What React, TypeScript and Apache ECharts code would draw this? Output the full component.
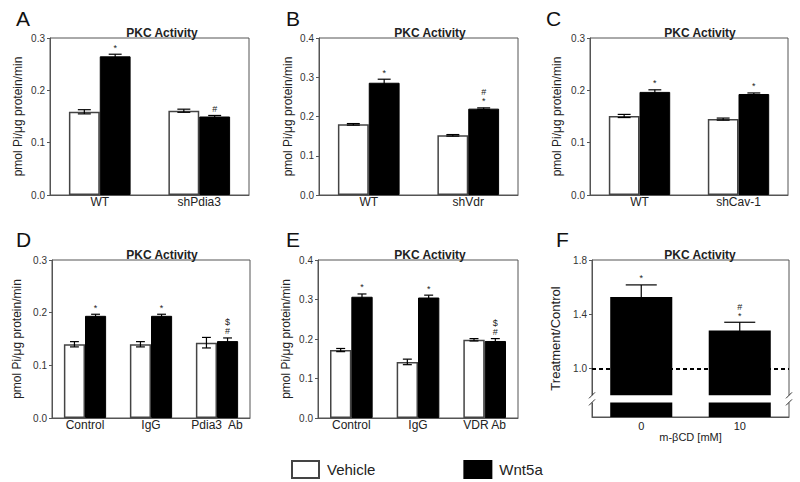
import React, { useEffect, useRef } from 'react';
import * as echarts from 'echarts';

const FONT = '"Liberation Sans", Arial, Helvetica, sans-serif';

// ---- Data ----
// Panel A
const catsA = ['WT', 'shPdia3'];
const vehA = [0.159, 0.161];
const vehErrA = [0.004, 0.003];
const wntA = [0.265, 0.150];
const wntErrA = [0.004, 0.002];
const markA = ['*', '#'];

// Panel B
const catsB = ['WT', 'shVdr'];
const vehB = [0.180, 0.152];
const vehErrB = [0.002, 0.002];
const wntB = [0.286, 0.220];
const wntErrB = [0.009, 0.002];
const markB = ['*', '#\n*'];

// Panel C
const catsC = ['WT', 'shCav-1'];
const vehC = [0.151, 0.145];
const vehErrC = [0.003, 0.002];
const wntC = [0.197, 0.193];
const wntErrC = [0.004, 0.002];
const markC = ['*', '*'];

// Panel D
const catsD = ['Control', 'IgG', 'Pdia3  Ab'];
const vehD = [0.140, 0.140, 0.143];
const vehErrD = [0.005, 0.005, 0.010];
const wntD = [0.194, 0.194, 0.146];
const wntErrD = [0.003, 0.003, 0.006];
const markD = ['*', '*', '$\n#'];

// Panel E
const catsE = ['Control', 'IgG', 'VDR Ab'];
const vehE = [0.172, 0.142, 0.198];
const vehErrE = [0.004, 0.007, 0.003];
const wntE = [0.307, 0.305, 0.195];
const wntErrE = [0.007, 0.006, 0.006];
const markE = ['*', '*', '$\n#'];

// Panel F
const catsF = ['0', '10'];
const ratioF = [1.526, 1.28];
const ratioErrF = [0.09, 0.06];
const markF = ['*', '#\n*'];
const breakF = [0.748, 0.8];
const refLineF = 1.0;
const yTicksF = [1.0, 1.4, 1.8];

// Y-axis maxima / intervals for panels A-E
const yMaxA = 0.3, yMaxB = 0.4, yMaxC = 0.3, yMaxD = 0.3, yMaxE = 0.4;
const yInterval = 0.1;

const panels = [
  { id: 'A', cats: catsA, veh: vehA, vehErr: vehErrA, wnt: wntA, wntErr: wntErrA, marks: markA, max: yMaxA,
    grid: { left: 50, top: 38, width: 199, height: 157 }, frac: 0.31, nameGap: 26, titleX: 157, titleTop: 22, lx: 11, ly: 3 },
  { id: 'B', cats: catsB, veh: vehB, vehErr: vehErrB, wnt: wntB, wntErr: wntErrB, marks: markB, max: yMaxB,
    grid: { left: 319, top: 38, width: 199, height: 157 }, frac: 0.31, nameGap: 25, titleX: 425, titleTop: 22, lx: 281, ly: 3 },
  { id: 'C', cats: catsC, veh: vehC, vehErr: vehErrC, wnt: wntC, wntErr: wntErrC, marks: markC, max: yMaxC,
    grid: { left: 590, top: 38, width: 198, height: 157 }, frac: 0.31, nameGap: 27, titleX: 695, titleTop: 22, lx: 541, ly: 3 },
  { id: 'D', cats: catsD, veh: vehD, vehErr: vehErrD, wnt: wntD, wntErr: wntErrD, marks: markD, max: yMaxD,
    grid: { left: 52, top: 260, width: 198, height: 158 }, frac: 0.32, nameGap: 29, titleX: 157, titleTop: 244, lx: 11, ly: 224 },
  { id: 'E', cats: catsE, veh: vehE, vehErr: vehErrE, wnt: wntE, wntErr: wntErrE, marks: markE, max: yMaxE,
    grid: { left: 318, top: 260, width: 200, height: 158 }, frac: 0.32, nameGap: 26, titleX: 425, titleTop: 244, lx: 281, ly: 224 },
];

const gridF = { left: 592, top: 260, width: 197, height: 157 };

function makeErrorRender(frac: number, capFrac: number, markFor: (i: number) => string) {
  return (params: any, api: any) => {
    const cat = api.value(0);
    const mean = api.value(1);
    const err = api.value(2);
    const side = api.value(3);
    const band = api.size([1, 0])[0];
    const w = band * frac;
    const c = api.coord([cat, mean]);
    const x = c[0] + (side * w) / 2;
    const yTop = api.coord([cat, mean + err])[1];
    const yBot = api.coord([cat, mean - err])[1];
    const half = (w * capFrac) / 2;
    const ls = { stroke: '#000', lineWidth: 1.2 };
    const children: any[] = [
      { type: 'line', shape: { x1: x, y1: yBot, x2: x, y2: yTop }, style: ls },
      { type: 'line', shape: { x1: x - half, y1: yTop, x2: x + half, y2: yTop }, style: ls },
      { type: 'line', shape: { x1: x - half, y1: yBot, x2: x + half, y2: yBot }, style: ls },
    ];
    const m = markFor(params.dataIndex);
    if (m) {
      children.push({
        type: 'text',
        style: {
          text: m, x, y: yTop - 2, align: 'center', verticalAlign: 'bottom',
          fontSize: 9, lineHeight: 9, fontFamily: FONT, fill: '#222',
        },
      });
    }
    return { type: 'group', children };
  };
}

function buildOption() {
  const grids: any[] = [];
  const xAxes: any[] = [];
  const yAxes: any[] = [];
  const series: any[] = [];
  const titles: any[] = [];

  const axisLineStyle = { show: true, lineStyle: { color: '#555', width: 1 } };

  panels.forEach((p, i) => {
    grids.push({ ...p.grid, show: true, borderColor: '#555', borderWidth: 1, containLabel: false });
    xAxes.push({
      type: 'category', gridIndex: i, data: p.cats,
      axisTick: { show: false }, axisLine: axisLineStyle,
      axisLabel: { interval: 0, fontSize: 12, color: '#222', fontFamily: FONT, margin: 1 },
    });
    yAxes.push({
      type: 'value', gridIndex: i, min: 0, max: p.max, interval: yInterval,
      name: 'pmol Pi/μg protein/min', nameLocation: 'middle', nameGap: p.nameGap,
      nameTextStyle: { fontSize: 12, color: '#222', fontFamily: FONT },
      splitLine: { show: false }, axisLine: axisLineStyle,
      axisTick: { show: true, length: 3, lineStyle: { color: '#555' } },
      axisLabel: { fontSize: 10, color: '#333', fontFamily: FONT, margin: 5, formatter: (v: number) => v.toFixed(1) },
    });
    const bw = `${p.frac * 100}%`;
    series.push({
      type: 'bar', name: 'Vehicle', xAxisIndex: i, yAxisIndex: i, data: p.veh, barWidth: bw, barGap: '0%',
      itemStyle: { color: '#ffffff', borderColor: '#444', borderWidth: 1.5 },
    });
    series.push({
      type: 'bar', name: 'Wnt5a', xAxisIndex: i, yAxisIndex: i, data: p.wnt, barWidth: bw, barGap: '0%',
      itemStyle: { color: '#000000', borderColor: '#000', borderWidth: 1 },
    });
    const errData = [
      ...p.veh.map((m, j) => [j, m, p.vehErr[j], -1]),
      ...p.wnt.map((m, j) => [j, m, p.wntErr[j], 1]),
    ];
    const n = p.veh.length;
    const marks = p.marks;
    series.push({
      type: 'custom', name: 'err' + p.id, xAxisIndex: i, yAxisIndex: i, z: 5, clip: false, silent: true,
      encode: { x: 0, y: 1 }, data: errData,
      renderItem: makeErrorRender(p.frac, 0.42, (k: number) => (k >= n ? marks[k - n] : '')),
    });
    titles.push({ text: 'PKC Activity', left: p.titleX, top: p.titleTop, textAlign: 'center',
      textStyle: { fontSize: 12, fontWeight: 'bold', color: '#222', fontFamily: FONT } });
    titles.push({ text: p.id, left: p.lx, top: p.ly,
      textStyle: { fontSize: 21, fontWeight: 'normal', color: '#111', fontFamily: FONT } });
  });

  // Panel F
  const fi = panels.length;
  grids.push({ ...gridF, show: true, borderColor: '#555', borderWidth: 1, containLabel: false });
  xAxes.push({
    type: 'category', gridIndex: fi, data: catsF,
    name: 'm-βCD [mM]', nameLocation: 'middle', nameGap: 11,
    nameTextStyle: { fontSize: 11, color: '#222', fontFamily: FONT },
    axisTick: { show: false }, axisLine: axisLineStyle,
    axisLabel: { interval: 0, fontSize: 11, color: '#222', fontFamily: FONT, margin: 3 },
  });
  yAxes.push({
    type: 'value', gridIndex: fi, min: 0.64, max: 1.8,
    name: 'Treatment/Control', nameLocation: 'middle', nameGap: 30,
    nameTextStyle: { fontSize: 13, color: '#222', fontFamily: FONT },
    splitLine: { show: false }, axisLine: axisLineStyle,
    axisTick: { show: true, length: 3, customValues: yTicksF, lineStyle: { color: '#555' } },
    axisLabel: { fontSize: 10, color: '#333', fontFamily: FONT, margin: 5, customValues: yTicksF,
      formatter: (v: number) => v.toFixed(1) },
  });
  series.push({
    type: 'bar', name: 'Treatment/Control', xAxisIndex: fi, yAxisIndex: fi, data: ratioF, barWidth: '63%',
    itemStyle: { color: '#000000' },
    markLine: {
      silent: true, symbol: 'none', label: { show: false },
      lineStyle: { type: [4, 3], width: 2, color: '#000' },
      data: [{ yAxis: refLineF }],
    },
  });
  series.push({
    type: 'custom', name: 'errF', xAxisIndex: fi, yAxisIndex: fi, z: 5, clip: false, silent: true,
    encode: { x: 0, y: 1 }, data: ratioF.map((m, j) => [j, m, ratioErrF[j], 0]),
    renderItem: makeErrorRender(0.63, 0.5, (k: number) => markF[k]),
  });
  series.push({
    type: 'custom', name: 'breakF', xAxisIndex: fi, yAxisIndex: fi, z: 10, clip: false, silent: true,
    encode: { x: 0, y: 1 }, data: [[0, breakF[0], breakF[1]]],
    renderItem: (params: any, api: any) => {
      const cs = params.coordSys;
      const yHi = api.coord([0, api.value(2)])[1];
      const yLo = api.coord([0, api.value(1)])[1];
      const ls = { stroke: '#333', lineWidth: 1 };
      const slash = (x: number, y: number) => ({ type: 'line', shape: { x1: x - 3, y1: y + 3, x2: x + 3, y2: y - 3 }, style: ls });
      const xl = cs.x, xr = cs.x + cs.width;
      return {
        type: 'group',
        children: [
          { type: 'rect', shape: { x: xl - 4, y: yHi, width: cs.width + 8, height: yLo - yHi }, style: { fill: '#fff' } },
          slash(xl, yHi), slash(xl, yLo), slash(xr, yHi), slash(xr, yLo),
        ],
      };
    },
  });
  titles.push({ text: 'PKC Activity', left: 695, top: 244, textAlign: 'center',
    textStyle: { fontSize: 12, fontWeight: 'bold', color: '#222', fontFamily: FONT } });
  titles.push({ text: 'F', left: 551, top: 224,
    textStyle: { fontSize: 21, fontWeight: 'normal', color: '#111', fontFamily: FONT } });

  return {
    animation: false,
    backgroundColor: '#ffffff',
    textStyle: { fontFamily: FONT },
    title: titles,
    grid: grids,
    xAxis: xAxes,
    yAxis: yAxes,
    legend: {
      data: ['Vehicle', 'Wnt5a'], left: 291, top: 460, orient: 'horizontal', padding: 0,
      icon: 'rect', itemWidth: 27, itemHeight: 17, itemGap: 88, selectedMode: false,
      textStyle: { fontSize: 15, color: '#222', fontFamily: FONT, padding: [0, 0, 0, 3] },
    },
    series,
  };
}

export default function App() {
  const ref = useRef<HTMLDivElement>(null);
  useEffect(() => {
    if (!ref.current) return;
    const chart = echarts.init(ref.current, undefined, { renderer: 'svg' });
    chart.setOption(buildOption() as any);
    return () => chart.dispose();
  }, []);
  return (
    <div
      ref={ref}
      style={{ position: 'fixed', left: 0, top: 0, width: 800, height: 482, background: '#fff' }}
    />
  );
}
